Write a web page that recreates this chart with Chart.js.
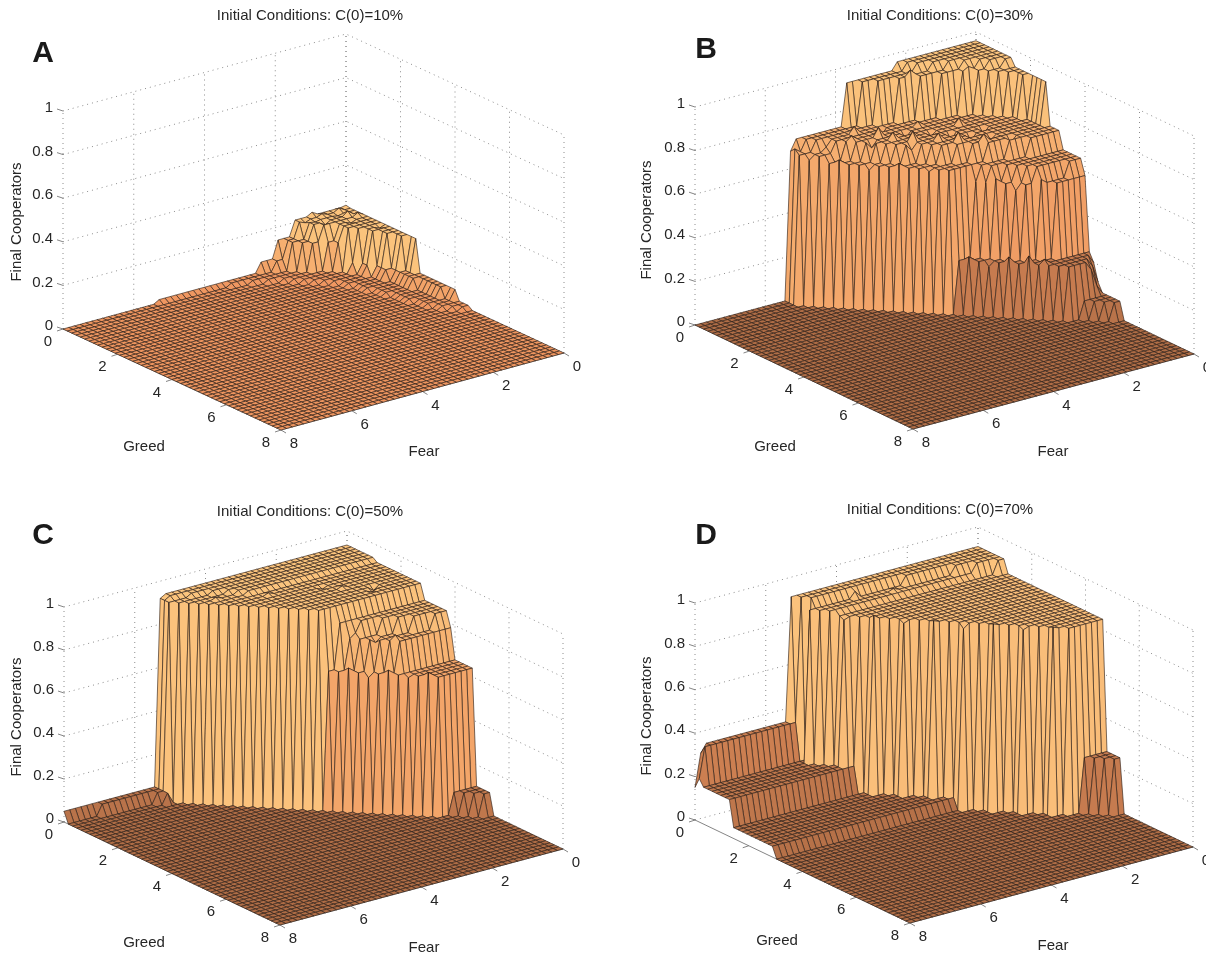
<!DOCTYPE html>
<html lang="en">
<head>
  <meta charset="UTF-8">
  <title>Final Cooperators surfaces</title>
  <script src="https://cdn.jsdelivr.net/npm/chart.js"></script>
  <style>
    body { margin: 0; background: #fff; }
    canvas { position: absolute; }
  </style>
</head>
<body>
  <canvas id="panelA" width="603" height="478" style="left:0;top:0"></canvas>
  <canvas id="panelB" width="603" height="478" style="left:603px;top:0"></canvas>
  <canvas id="panelC" width="603" height="479" style="left:0;top:478px"></canvas>
  <canvas id="panelD" width="603" height="479" style="left:603px;top:478px"></canvas>

  <script>
    // axes
    const greedTicks = [0, 2, 4, 6, 8];
    const fearTicks = [0, 2, 4, 6, 8];
    const coopTicks = [0, 0.2, 0.4, 0.6, 0.8, 1];
    const gridStep = 0.16;
    const gridCells = 50;

    // every surface is a set of plateaus. reach[i][row] = how many fear steps
    // the plateau covers in that greed row
    const levelsA = [0.21, 0.14, 0.06, 0.015];
    const reachA = [
      [10,10,9,9,8,6,6,6,5,4,4,3,3,2,2,1,1],
      [13,12,12,11,10,8,7],
      [16,14,12,10,9,8,7,6,6,5,5,4,4,4,3,3,3,3,3,2,2,2,2,2,1,1],
      [34,22,19,17,15,14,13,12,11,10,9,9,8,8,8,7,7,7,6,6,6,6,5,5,5,4,4,3,2]
    ];
    const bumpsA = [[0,0,.215],[1,2,.225],[2,3,.205],[3,2,.23],[1,5,.22],[4,1,.225],[2,7,.205],[5,3,.2],[3,6,.195],[7,2,.21],[9,1,.2],[0,6,.225],[1,8,.2]];

    const levelsB = [0.96, 0.925, 0.73, 0.68, 0.65, 0.58, 0.24, 0.08];
    const reachB = [
      [15,14,13,11,9,7,5,4,2],
      [24,22,20,17,14,11,8,6,5,4,3,2,2,1,1,1,1],
      [33,32,31,30,29,28,27,26,25,24,23,22,20,19,18,16,14,12,9,6],
      [34,34,34,33,32],
      [0,0,0,0,0,31,30,29,28,27,26,25,24,23,22,21,20,19,14,13,11,10,9,8,3],
      [0,0,0,0,0,0,0,0,0,0,0,0,0,0,0,0,0,0,15,14,13,12,11,10,8,6],
      [0,0,0,0,0,0,0,0,0,0,0,0,0,0,0,0,0,0,18,17,16,15,14,13,12,11,10,9,8,7],
      [0,0,0,0,0,0,0,0,0,0,0,0,0,0,0,0,0,0,0,0,0,0,0,0,0,0,0,0,0,0,5,4,3,2]
    ];
    const bumpsB = [[27,0,.2],[28,0,.12],[28,1,.2],[29,0,.08],[29,1,.12],[29,2,.2],
      [3,24,.76],[4,20,.7],[5,26,.75],[6,22,.77],[7,18,.7],[8,21,.76],[9,15,.71],[10,19,.77],[11,13,.7],[12,16,.76],[13,11,.7],[14,14,.77],[15,9,.71],[16,11,.76],[17,7,.7],[6,15,.75],[9,10,.76],[12,8,.7],[3,29,.7],[7,24,.7],[11,20,.7],
      [1,33,.7],[3,32,.66],[6,29,.67],[9,26,.63],[12,23,.67],[15,20,.64],[3,14,.95],[6,6,.94],
      [20,12,.6],[22,10,.55],[24,7,.6],[19,16,.26],[21,14,.22],[23,12,.27],[25,10,.28],[26,8,.26]];

    const levelsC = [0.935, 0.92, 0.85, 0.78, 0.64, 0.1, 0.05];
    const reachC = [
      [33,33,30,27,25,24,23],
      [34,34,34,33,32,31,30,29,28,27,26,25,24,23,22,21,20,19],
      [0,0,0,0,0,0,0,0,0,0,0,0,0,0,0,0,0,0,16,13,10,8,6,3],
      [0,0,0,0,0,0,0,0,0,0,0,0,0,0,0,0,0,0,16,15,14,13,12,11,10],
      [0,0,0,0,0,0,0,0,0,0,0,0,0,0,0,0,0,0,18,17,16,15,14,13,12,11,10,9,8,7],
      [0,0,0,0,0,0,0,0,0,0,0,0,0,0,0,0,0,0,0,0,0,0,0,0,0,0,0,0,0,0,5,4,3,2],
      [51,45,36]
    ];
    const bumpsC = [[19,13,.8],[21,11,.76],[23,9,.8],[8,20,.93],[10,12,.91],[12,10,.93],[14,6,.9],[5,27,.93],[15,7,.91],
      [20,15,.66],[22,13,.62],[24,11,.66],[26,9,.63],[28,7,.66],[3,34,.05]];

    const levelsD = [0.91, 0.87, 0.85, 0.34, 0.25, 0.17, 0.05];
    const reachD = [
      [34,33,32,16,8,5,2],
      [0,0,0,33,32,31],
      [0,0,0,0,0,0,30,29,28,27,26,25,24,23,22,21,20,19,18,17,16,15,14,13,12,11,10,9,8,7],
      [51,51],
      [0,0,0,0,0,0,0,0,0,0,0,0,0,0,0,0,0,0,0,0,0,0,0,0,0,0,0,0,0,0,5,4,3,2],
      [0,0,51,51,51,51,51,51,51],
      [0,0,0,0,0,0,0,0,0,51,51,51,51,51,51,51,51,51,51]
    ];
    const bumpsD = [[0,50,.15],[1,50,.2],[0,49,.3],[7,29,.84],[10,26,.87],[13,23,.84],[16,20,.86],[19,17,.83],[22,14,.86],[25,11,.84],[28,8,.86],[3,24,.9],[4,18,.88]];

    // height -> position on the copper colormap, one table per panel
    const copperA = [[0,.75],[.015,.76],[.06,.82],[.14,.88],[.21,.98]];
    const copperB = [[0,.55],[.08,.58],[.24,.62],[.58,.80],[.68,.85],[.73,.88],[.925,.97],[.96,.985]];
    const copperC = [[0,.55],[.05,.58],[.1,.6],[.64,.83],[.78,.9],[.85,.95],[.92,.975],[.935,.985]];
    const copperD = [[0,.55],[.05,.57],[.17,.6],[.25,.62],[.34,.64],[.85,.95],[.91,.975]];

    const panels = [
      { id: 'panelA', letter: 'A', title: 'Initial Conditions: C(0)=10%', ox: 0, oy: 0, left: [63,329], gv: [218,101], fv: [283,-77], zh: 218,
        levels: levelsA, reach: reachA, bumps: bumpsA, copper: copperA,
        titleAt: [310,16], letterAt: [43,54], greedAt: [144,447], fearAt: [424,452], coopAt: [17,222] },
      { id: 'panelB', letter: 'B', title: 'Initial Conditions: C(0)=30%', ox: 603, oy: 0, left: [695,325], gv: [218,104], fv: [281,-75], zh: 218,
        levels: levelsB, reach: reachB, bumps: bumpsB, copper: copperB,
        titleAt: [940,16], letterAt: [706,50], greedAt: [775,447], fearAt: [1053,452], coopAt: [647,220] },
      { id: 'panelC', letter: 'C', title: 'Initial Conditions: C(0)=50%', ox: 0, oy: 478, left: [64,822], gv: [216,103], fv: [283,-76], zh: 215,
        levels: levelsC, reach: reachC, bumps: bumpsC, copper: copperC,
        titleAt: [310,512], letterAt: [43,536], greedAt: [144,943], fearAt: [424,948], coopAt: [17,717] },
      { id: 'panelD', letter: 'D', title: 'Initial Conditions: C(0)=70%', ox: 603, oy: 478, left: [695,820], gv: [215,103], fv: [283,-76], zh: 217,
        levels: levelsD, reach: reachD, bumps: bumpsD, copper: copperD,
        titleAt: [940,510], letterAt: [706,536], greedAt: [777,941], fearAt: [1053,946], coopAt: [647,716] }
    ];

    function project(p, g, f, z) {
      return {
        x: p.left[0] + g / 8 * p.gv[0] + (8 - f) / 8 * p.fv[0],
        y: p.left[1] + g / 8 * p.gv[1] + (8 - f) / 8 * p.fv[1] - z * p.zh
      };
    }

    function heightAt(p, row, col) {
      for (let i = 0; i < p.levels.length; i++) {
        if (col < (p.reach[i][row] || 0)) return p.levels[i];
      }
      return 0;
    }

    function surfacePoints(p) {
      const pts = [];
      for (let row = 0; row <= gridCells; row++) {
        for (let col = 0; col <= gridCells; col++) {
          let z = heightAt(p, row, col);
          const bump = p.bumps.find(b => b[0] === row && b[1] === col);
          if (bump) z = bump[2];
          const pt = project(p, row * gridStep, col * gridStep, z);
          pt.z = z;
          pts.push(pt);
        }
      }
      return pts;
    }

    function copperColor(stops, z) {
      let t = stops[stops.length - 1][1];
      for (let i = 1; i < stops.length; i++) {
        if (z <= stops[i][0]) {
          const a = stops[i - 1], b = stops[i];
          t = a[1] + (b[1] - a[1]) * (z - a[0]) / (b[0] - a[0]);
          break;
        }
      }
      // the printed red channel never quite saturates
      const r = Math.min(1.25 * t * 255, 240 + (t - 0.78) * 55);
      return `rgb(${Math.round(r)},${Math.round(199 * t)},${Math.round(127 * t)})`;
    }

    // dotted box lines on the two back walls
    function wallLines(p) {
      const gap = { x: NaN, y: NaN };
      const pts = [];
      coopTicks.forEach(z => {
        pts.push(project(p, 0, 8, z), project(p, 0, 0, z), project(p, 8, 0, z), gap);
      });
      fearTicks.forEach(f => {
        pts.push(project(p, 0, f, 0), project(p, 0, f, 1), gap);
      });
      greedTicks.forEach(g => {
        pts.push(project(p, g, 0, 0), project(p, g, 0, 1), gap);
      });
      return pts;
    }

    function axisLines(p) {
      const gap = { x: NaN, y: NaN };
      const pts = [project(p, 0, 8, 0), project(p, 8, 8, 0), project(p, 8, 0, 0), gap];
      coopTicks.forEach(z => {
        const a = project(p, 0, 8, z);
        pts.push(a, { x: a.x - 6, y: a.y - 2 }, gap);
      });
      greedTicks.forEach(g => {
        const a = project(p, g, 8, 0);
        pts.push(a, { x: a.x - 6, y: a.y + 2 }, gap);
      });
      fearTicks.forEach(f => {
        const a = project(p, 8, f, 0);
        pts.push(a, { x: a.x + 5, y: a.y + 3 }, gap);
      });
      return pts;
    }

    const surfacePlugin = {
      id: 'surface',
      afterDatasetsDraw(chart) {
        const p = chart.options.plugins.surface.panel;
        const ctx = chart.ctx;
        const pts = chart.getDatasetMeta(0).data;
        const raw = chart.data.datasets[0].data;
        const n = gridCells + 1;
        ctx.save();
        ctx.lineWidth = 0.7;
        ctx.lineJoin = 'round';
        ctx.strokeStyle = 'rgba(45,30,22,0.9)';
        // back corner first, so nearer cells paint over farther ones
        for (let row = 0; row < gridCells; row++) {
          for (let col = 0; col < gridCells; col++) {
            const a = pts[row * n + col], b = pts[row * n + col + 1];
            const c = pts[(row + 1) * n + col + 1], d = pts[(row + 1) * n + col];
            ctx.beginPath();
            ctx.moveTo(a.x, a.y);
            ctx.lineTo(b.x, b.y);
            ctx.lineTo(c.x, c.y);
            ctx.lineTo(d.x, d.y);
            ctx.closePath();
            ctx.fillStyle = copperColor(p.copper, raw[row * n + col].z);
            ctx.fill();
            ctx.stroke();
          }
        }
        ctx.restore();
        drawLabels(chart, p);
      }
    };

    function drawLabels(chart, p) {
      const ctx = chart.ctx;
      const sx = chart.scales.x, sy = chart.scales.y;
      const text = (s, x, y) => ctx.fillText(s, sx.getPixelForValue(x), sy.getPixelForValue(y));
      const font = '15px "Liberation Sans", Arial, sans-serif';
      ctx.save();
      ctx.fillStyle = '#262626';
      ctx.textAlign = 'center';
      ctx.textBaseline = 'middle';
      ctx.font = font;
      greedTicks.forEach(g => {
        const a = project(p, g, 8, 0);
        text(String(g), a.x - 15, a.y + 13);
      });
      fearTicks.forEach(f => {
        const a = project(p, 8, f, 0);
        text(String(f), a.x + 13, a.y + 14);
      });
      text('Greed', p.greedAt[0], p.greedAt[1]);
      text('Fear', p.fearAt[0], p.fearAt[1]);
      text(p.title, p.titleAt[0], p.titleAt[1]);
      ctx.textAlign = 'right';
      coopTicks.forEach(z => {
        const a = project(p, 0, 8, z);
        text(String(z), a.x - 10, a.y - 3);
      });
      ctx.textAlign = 'center';
      ctx.font = 'bold 30px "Liberation Sans", Arial, sans-serif';
      ctx.fillStyle = '#1a1a1a';
      text(p.letter, p.letterAt[0], p.letterAt[1]);
      ctx.fillStyle = '#262626';
      ctx.font = font;
      ctx.translate(sx.getPixelForValue(p.coopAt[0]), sy.getPixelForValue(p.coopAt[1]));
      ctx.rotate(-Math.PI / 2);
      ctx.fillText('Final Cooperators', 0, 0);
      ctx.restore();
    }

    panels.forEach(p => {
      const canvas = document.getElementById(p.id);
      new Chart(canvas, {
        type: 'scatter',
        data: {
          datasets: [
            { label: 'Final Cooperators', data: surfacePoints(p), pointRadius: 0, showLine: false },
            { label: 'axes', data: axisLines(p), showLine: true, pointRadius: 0, borderColor: '#666', borderWidth: 0.8 },
            { label: 'walls', data: wallLines(p), showLine: true, pointRadius: 0, borderColor: '#8c8c8c', borderWidth: 1, borderDash: [1, 4] }
          ]
        },
        options: {
          responsive: false,
          devicePixelRatio: 1,
          animation: false,
          events: [],
          layout: { padding: 0 },
          scales: {
            x: { display: false, min: p.ox, max: p.ox + canvas.width },
            y: { display: false, min: p.oy, max: p.oy + canvas.height, reverse: true }
          },
          plugins: { legend: { display: false }, tooltip: { enabled: false }, surface: { panel: p } }
        },
        plugins: [surfacePlugin]
      });
    });
  </script>
</body>
</html>
